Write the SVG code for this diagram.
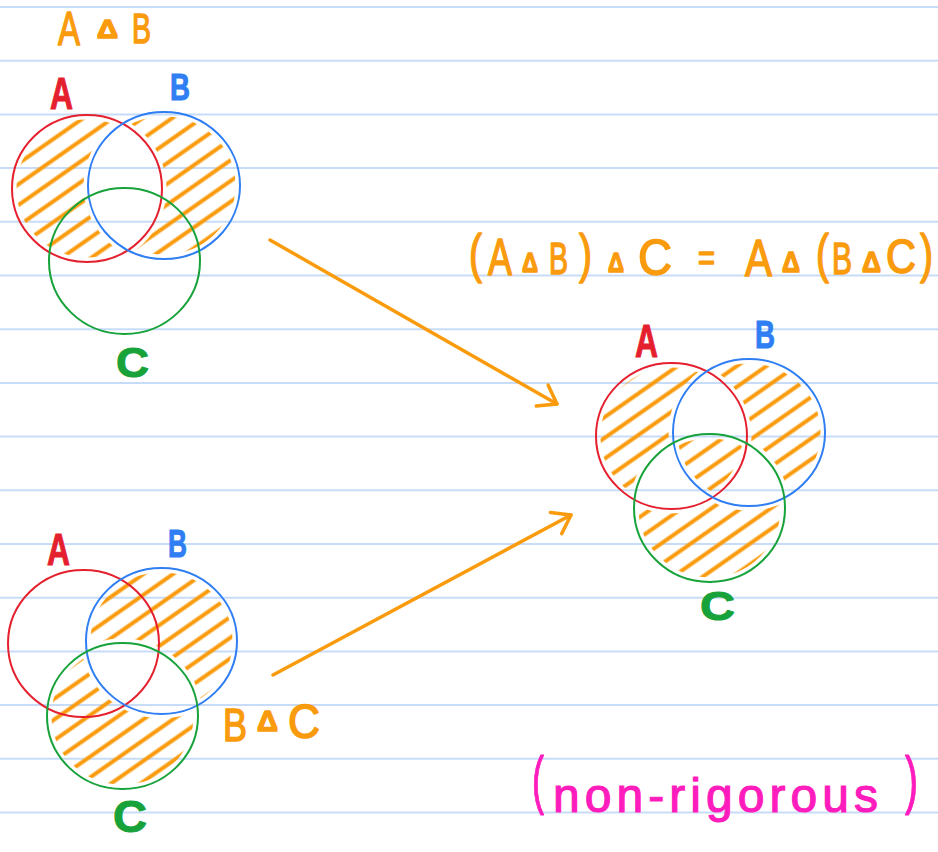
<svg xmlns="http://www.w3.org/2000/svg" width="938" height="852" viewBox="0 0 938 852">
<style>
.rule{stroke:#c7dcf8;stroke-width:2}
.ring{fill:none;stroke-width:2}
.red{stroke:#e5202e}
.blue{stroke:#2f7ef3}
.green{stroke:#17a23a}
.hatch{fill:url(#hatch);fill-rule:evenodd}
.mk{fill:#ffffff;fill-rule:evenodd;stroke:#000000;stroke-width:9}
.lbl{font-family:"Liberation Sans","DejaVu Sans",sans-serif;font-weight:bold;stroke-width:1;stroke-linejoin:round}
.lr{fill:#e5202e;stroke:#e5202e}
.lb{fill:#2f7ef3;stroke:#2f7ef3}
.lg{fill:#17a23a;stroke:#17a23a}
.or{font-family:"Liberation Sans","DejaVu Sans",sans-serif;fill:#f99b0d;stroke:#f99b0d;stroke-width:1.6;stroke-linejoin:round}
.tri{font-weight:bold}
.mg{font-family:"Liberation Sans","DejaVu Sans",sans-serif;fill:#ff1cbd;stroke:#ff1cbd;stroke-width:1.2;stroke-linejoin:round}
.arrow{fill:none;stroke:#f99b0d;stroke-width:3.5;stroke-linecap:round;marker-end:url(#head)}
</style>
<defs>
<pattern id="hatch" patternUnits="userSpaceOnUse" width="40" height="17" patternTransform="rotate(-35)">
<line x1="-2" y1="8.5" x2="42" y2="8.5" stroke="#f99b0d" stroke-width="4"/>
</pattern>
<marker id="head" markerUnits="userSpaceOnUse" viewBox="-25 -15 30 30" markerWidth="30" markerHeight="30" refX="0" refY="0" orient="auto" overflow="visible">
<path d="M-17,-12 L0,0 L-17,12" fill="none" stroke="#f99b0d" stroke-width="3.5" stroke-linecap="round" stroke-linejoin="round"/>
</marker>
<path id="r1" d="M12,188.5 a75,73.5 0 1,0 150,0 a75,73.5 0 1,0 -150,0 Z M88,185.5 a76,73.5 0 1,0 152,0 a76,73.5 0 1,0 -152,0 Z"/>
<path id="r2" d="M86,641 a75.5,73 0 1,0 151,0 a75.5,73 0 1,0 -151,0 Z M47,716 a75.5,73 0 1,0 151,0 a75.5,73 0 1,0 -151,0 Z"/>
<path id="r3" d="M596,436 a75.5,73 0 1,0 151,0 a75.5,73 0 1,0 -151,0 Z M673,432.5 a76,73.5 0 1,0 152,0 a76,73.5 0 1,0 -152,0 Z M634,508 a75.5,74 0 1,0 151,0 a75.5,74 0 1,0 -151,0 Z"/>
<mask id="m1" maskUnits="userSpaceOnUse" x="0" y="0" width="938" height="852"><use href="#r1" class="mk"/></mask>
<mask id="m2" maskUnits="userSpaceOnUse" x="0" y="0" width="938" height="852"><use href="#r2" class="mk"/></mask>
<mask id="m3" maskUnits="userSpaceOnUse" x="0" y="0" width="938" height="852"><use href="#r3" class="mk"/></mask>
</defs>
<rect width="938" height="852" fill="#ffffff"/>
<g id="paper-lines">
<line class="rule" x1="0" y1="7" x2="938" y2="7"/>
<line class="rule" x1="0" y1="60.7" x2="938" y2="60.7"/>
<line class="rule" x1="0" y1="114.4" x2="938" y2="114.4"/>
<line class="rule" x1="0" y1="168.1" x2="938" y2="168.1"/>
<line class="rule" x1="0" y1="221.8" x2="938" y2="221.8"/>
<line class="rule" x1="0" y1="275.5" x2="938" y2="275.5"/>
<line class="rule" x1="0" y1="329.2" x2="938" y2="329.2"/>
<line class="rule" x1="0" y1="382.9" x2="938" y2="382.9"/>
<line class="rule" x1="0" y1="436.6" x2="938" y2="436.6"/>
<line class="rule" x1="0" y1="490.3" x2="938" y2="490.3"/>
<line class="rule" x1="0" y1="544" x2="938" y2="544"/>
<line class="rule" x1="0" y1="597.7" x2="938" y2="597.7"/>
<line class="rule" x1="0" y1="651.4" x2="938" y2="651.4"/>
<line class="rule" x1="0" y1="705.1" x2="938" y2="705.1"/>
<line class="rule" x1="0" y1="758.8" x2="938" y2="758.8"/>
<line class="rule" x1="0" y1="812.5" x2="938" y2="812.5"/>
</g>

<g id="venn-a-delta-b">
<use href="#r1" class="hatch" mask="url(#m1)"/>
<ellipse class="ring red" cx="87" cy="188.5" rx="75" ry="73.5"/>
<ellipse class="ring blue" cx="164" cy="185.5" rx="76" ry="73.5"/>
<ellipse class="ring green" cx="124.5" cy="261" rx="75.5" ry="73"/>
<text class="lbl lr" x="50" y="109" font-size="44" textLength="23" lengthAdjust="spacingAndGlyphs">A</text>
<text class="lbl lb" x="170" y="100" font-size="37" textLength="20" lengthAdjust="spacingAndGlyphs">B</text>
<text class="lbl lg" x="116" y="377" font-size="42" textLength="33" lengthAdjust="spacingAndGlyphs">C</text>
<text class="or"><tspan x="58" y="45" font-size="48" textLength="22" lengthAdjust="spacingAndGlyphs">A</tspan> <tspan class="tri" x="97" y="38" font-size="26" textLength="21" lengthAdjust="spacingAndGlyphs">Δ</tspan> <tspan x="132" y="43" font-size="42" textLength="19" lengthAdjust="spacingAndGlyphs">B</tspan></text>
</g>

<g id="venn-b-delta-c">
<use href="#r2" class="hatch" mask="url(#m2)"/>
<ellipse class="ring red" cx="83.5" cy="643.5" rx="75.5" ry="73.5"/>
<ellipse class="ring blue" cx="161.5" cy="641" rx="75.5" ry="73"/>
<ellipse class="ring green" cx="122.5" cy="716" rx="75.5" ry="73"/>
<text class="lbl lr" x="47" y="565" font-size="44" textLength="23" lengthAdjust="spacingAndGlyphs">A</text>
<text class="lbl lb" x="168" y="557" font-size="38" textLength="19" lengthAdjust="spacingAndGlyphs">B</text>
<text class="lbl lg" x="113" y="832" font-size="44" textLength="34" lengthAdjust="spacingAndGlyphs">C</text>
<text class="or"><tspan x="223" y="741" font-size="47" textLength="24" lengthAdjust="spacingAndGlyphs">B</tspan> <tspan class="tri" x="257" y="731" font-size="30" textLength="21" lengthAdjust="spacingAndGlyphs">Δ</tspan> <tspan x="288" y="738" font-size="48" textLength="32" lengthAdjust="spacingAndGlyphs">C</tspan></text>
</g>

<g id="venn-result">
<use href="#r3" class="hatch" mask="url(#m3)"/>
<ellipse class="ring red" cx="671.5" cy="436" rx="75.5" ry="73"/>
<ellipse class="ring blue" cx="749" cy="432.5" rx="76" ry="73.5"/>
<ellipse class="ring green" cx="709.5" cy="508" rx="75.5" ry="74"/>
<text class="lbl lr" x="635" y="357" font-size="46" textLength="23" lengthAdjust="spacingAndGlyphs">A</text>
<text class="lbl lb" x="755" y="348" font-size="39" textLength="20" lengthAdjust="spacingAndGlyphs">B</text>
<text class="lbl lg" x="700" y="620" font-size="40" textLength="35" lengthAdjust="spacingAndGlyphs">C</text>
</g>

<g id="equation">
<text class="or"><tspan x="469" y="272" font-size="54" textLength="13" lengthAdjust="spacingAndGlyphs">(</tspan><tspan x="488" y="275" font-size="52" textLength="24" lengthAdjust="spacingAndGlyphs">A</tspan> <tspan class="tri" x="522" y="272" font-size="28" textLength="16" lengthAdjust="spacingAndGlyphs">Δ</tspan> <tspan x="549" y="274" font-size="44" textLength="19" lengthAdjust="spacingAndGlyphs">B</tspan><tspan x="579" y="272" font-size="54" textLength="13" lengthAdjust="spacingAndGlyphs">)</tspan> <tspan class="tri" x="608" y="272" font-size="28" textLength="16" lengthAdjust="spacingAndGlyphs">Δ</tspan> <tspan x="638" y="275" font-size="50" textLength="34" lengthAdjust="spacingAndGlyphs">C</tspan> <tspan x="698" y="270" font-size="36" textLength="17" lengthAdjust="spacingAndGlyphs">=</tspan> <tspan x="745" y="276" font-size="52" textLength="27" lengthAdjust="spacingAndGlyphs">A</tspan> <tspan class="tri" x="782" y="272" font-size="30" textLength="18" lengthAdjust="spacingAndGlyphs">Δ</tspan> <tspan x="816" y="272" font-size="54" textLength="13" lengthAdjust="spacingAndGlyphs">(</tspan><tspan x="832" y="274" font-size="44" textLength="20" lengthAdjust="spacingAndGlyphs">B</tspan> <tspan class="tri" x="862" y="272" font-size="30" textLength="19" lengthAdjust="spacingAndGlyphs">Δ</tspan> <tspan x="886" y="273" font-size="48" textLength="30" lengthAdjust="spacingAndGlyphs">C</tspan><tspan x="920" y="272" font-size="54" textLength="13" lengthAdjust="spacingAndGlyphs">)</tspan></text>
</g>

<g id="note">
<text class="mg"><tspan x="532" y="802" font-size="64" textLength="12" lengthAdjust="spacingAndGlyphs">(</tspan><tspan x="553" y="812" font-size="48" textLength="325" lengthAdjust="spacing">non-rigorous</tspan> <tspan x="905" y="802" font-size="64" textLength="13" lengthAdjust="spacingAndGlyphs">)</tspan></text>
</g>

<g id="connectors">
<path class="arrow" d="M270,240 L557,404"/>
<path class="arrow" d="M273,675 L571,515"/>
</g>
</svg>
